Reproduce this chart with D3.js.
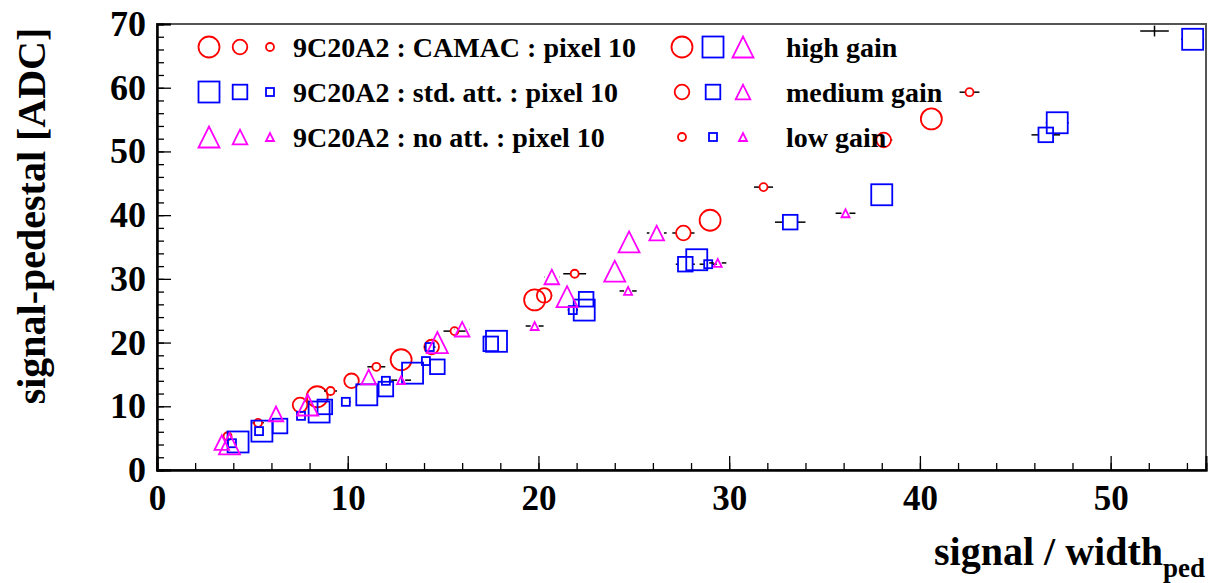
<!DOCTYPE html>
<html>
<head>
<meta charset="utf-8">
<title>signal-pedestal vs signal / width</title>
<script src="https://d3js.org/d3.v7.min.js"></script>
<style>
body { margin: 0; background: #fff; }
text { font-family: "Liberation Serif", "Times New Roman", serif; font-weight: bold; }
</style>
</head>
<body>
<script>

// each point: [signal / width_ped, signal-pedestal, x error]
var camacHigh = [[8.4,11.5,0.3],[12.8,17.3,0.3],[19.8,26.7,0.4],[29.0,39.2,0.4],[40.6,55.1,0.5]];
var camacMed  = [[7.5,10.2,0.2],[10.2,14.0,0.3],[14.4,19.3,0.3],[20.3,27.4,0.42],[27.6,37.2,0.58],[38.1,51.8,0.45]];
var camacLow  = [[3.7,5.3,0.2],[5.3,7.4,0.3],[9.1,12.4,0.34],[11.5,16.2,0.47],[15.6,21.8,0.58],[21.9,30.8,0.6],[31.8,44.4,0.5],[42.6,59.3,0.52]];

var stdHigh = [[4.25,4.4,0.3],[5.5,6.1,0.3],[8.5,9.1,0.3],[11.0,11.8,0.3],[13.4,15.2,0.3],[17.8,20.2,0.3],[22.4,25.1,0.4],[28.3,33.0,0.4],[38.0,43.2,0.5],[47.2,54.5,0.6],[54.3,67.6,0.6]];
var stdMed  = [[6.45,6.9,0.25],[8.8,9.9,0.25],[12.0,12.7,0.3],[14.7,16.2,0.3],[17.5,19.8,0.35],[22.5,26.8,0.35],[27.7,32.3,0.5],[33.2,38.9,0.8],[46.6,52.6,0.75]];
var stdLow  = [[3.93,4.2,0.2],[5.35,6.1,0.2],[7.55,8.5,0.25],[9.9,10.7,0.25],[12.0,14.0,0.25],[14.1,17.1,0.25],[14.3,19.3,0.3],[21.8,25.1,0.27],[28.9,32.3,0.45]];

var noHigh = [[3.8,4.1,0.3],[7.9,10.2,0.3],[14.7,20.0,0.35],[21.5,27.2,0.4],[24.0,31.2,0.4],[24.75,35.8,0.4]];
var noMed  = [[3.4,4.3,0.2],[6.24,8.8,0.25],[11.1,14.6,0.3],[16.0,22.1,0.4],[20.7,30.3,0.4],[26.2,37.2,0.52]];
var noLow  = [[12.8,14.1,0.52],[19.8,22.6,0.47],[24.7,28.1,0.45],[29.4,32.5,0.45],[36.1,40.3,0.52]];

// point drawn with error bars only: [x, y, ex, ey]
var bareErr = [[52.3,68.9,0.75,0.85]];

var seriesLabels = ["9C20A2 : CAMAC : pixel 10", "9C20A2 : std. att. : pixel 10", "9C20A2 : no att. : pixel 10"];
var gainLabels = ["high gain", "medium gain", "low gain"];
var xTicks = [0,10,20,30,40,50];
var yTicks = [0,10,20,30,40,50,60,70];

var W = 1211, H = 583;
var pLeft = 157, pTop = 24, pRight = 1206, pBottom = 470;

var svg = d3.select("body").append("svg").attr("width", W).attr("height", H);

var x = d3.scaleLinear().domain([0,55]).range([pLeft,pRight]);
var y = d3.scaleLinear().domain([0,70]).range([pBottom,pTop]);

var series = [
	{shape:"circle", color:"#ff0000", sets:[camacHigh, camacMed, camacLow]},
	{shape:"square", color:"#0000ff", sets:[stdHigh, stdMed, stdLow]},
	{shape:"triangle", color:"#ff00ff", sets:[noHigh, noMed, noLow]}
];
var half = [10.5, 7.3, 4]; // marker half size per gain

function marker(g, shape, s, cx, cy, color){
	var el;
	if(shape == "circle"){
		el = g.append("circle").attr("cx",cx).attr("cy",cy).attr("r",s);
	} else if(shape == "square"){
		el = g.append("rect").attr("x",cx-s).attr("y",cy-s).attr("width",2*s).attr("height",2*s);
	} else {
		el = g.append("path").attr("d","M"+(cx-s)+","+(cy+s)+"L"+(cx+s)+","+(cy+s)+"L"+cx+","+(cy-s)+"Z");
	}
	el.attr("fill","none").attr("stroke",color).attr("stroke-width",1.8);
}

// frame
svg.append("rect").attr("x",pLeft).attr("y",pTop).attr("width",pRight-pLeft).attr("height",pBottom-pTop)
	.attr("fill","none").attr("stroke","#555").attr("stroke-width",2);

// axes: minor then major ticks, all inward
var yMinor = d3.axisLeft(y).tickValues(d3.range(0,71,2)).tickSize(-7).tickFormat("");
var yMajor = d3.axisLeft(y).tickValues(yTicks).tickSize(-14).tickPadding(11).tickFormat(d3.format("d"));
var xMinor = d3.axisBottom(x).tickValues(d3.range(0,55,2)).tickSize(-7).tickFormat("");
var xMajor = d3.axisBottom(x).tickValues(xTicks).tickSize(-14).tickPadding(15).tickFormat(d3.format("d"));

var gy = [yMinor, yMajor].map(function(a){
	return svg.append("g").attr("transform","translate("+pLeft+",0)").call(a);
});
var gx = [xMinor, xMajor].map(function(a){
	return svg.append("g").attr("transform","translate(0,"+pBottom+")").call(a);
});
svg.selectAll(".domain").attr("stroke","#000").attr("stroke-width",2);
svg.selectAll(".tick line").attr("stroke","#000").attr("stroke-width",1.3);
gy[1].selectAll(".tick text").style("font-size","36px").attr("fill","#000");
gx[1].selectAll(".tick text").style("font-size","35px").attr("fill","#000");

// axis titles
svg.append("text").attr("transform","translate(45,216) rotate(-90)")
	.attr("text-anchor","middle").style("font-size","40px").text("signal-pedestal [ADC]");
var xt = svg.append("text").attr("x",1205).attr("y",565).attr("text-anchor","end").style("font-size","40px");
xt.append("tspan").text("signal / width");
xt.append("tspan").attr("dy",12).style("font-size","27px").text("ped");

// error bars (outside the marker only), then markers
var pts = svg.append("g");
series.forEach(function(sr){
	sr.sets.forEach(function(set, gi){
		var s = half[gi];
		set.forEach(function(p){
			var cx = x(p[0]), cy = y(p[1]);
			var x0 = x(p[0]-p[2]), x1 = x(p[0]+p[2]);
			if(x0 < cx - s){
				pts.append("line").attr("x1",x0).attr("x2",cx-s).attr("y1",cy).attr("y2",cy)
					.attr("stroke","#000").attr("stroke-width",1.5);
				pts.append("line").attr("x1",cx+s).attr("x2",x1).attr("y1",cy).attr("y2",cy)
					.attr("stroke","#000").attr("stroke-width",1.5);
			}
			marker(pts, sr.shape, s, cx, cy, sr.color);
		});
	});
});
bareErr.forEach(function(p){
	pts.append("line").attr("x1",x(p[0]-p[2])).attr("x2",x(p[0]+p[2])).attr("y1",y(p[1])).attr("y2",y(p[1]))
		.attr("stroke","#000").attr("stroke-width",1.5);
	pts.append("line").attr("x1",x(p[0])).attr("x2",x(p[0])).attr("y1",y(p[1]-p[3])).attr("y2",y(p[1]+p[3]))
		.attr("stroke","#000").attr("stroke-width",1.5);
});

// legend
var leg = svg.append("g");
var rowY = [47, 92, 137];
seriesLabels.forEach(function(lab, i){
	[209, 240, 270].forEach(function(mx, gi){
		marker(leg, series[i].shape, half[gi], mx, rowY[i], series[i].color);
	});
	leg.append("text").attr("x",293).attr("y",rowY[i]+10).style("font-size","28px").text(lab);
});
gainLabels.forEach(function(lab, gi){
	[682, 713, 743].forEach(function(mx, i){
		marker(leg, series[i].shape, half[gi], mx, rowY[gi], series[i].color);
	});
	leg.append("text").attr("x",786).attr("y",rowY[gi]+10).style("font-size","28px").text(lab);
});

</script>
</body>
</html>
